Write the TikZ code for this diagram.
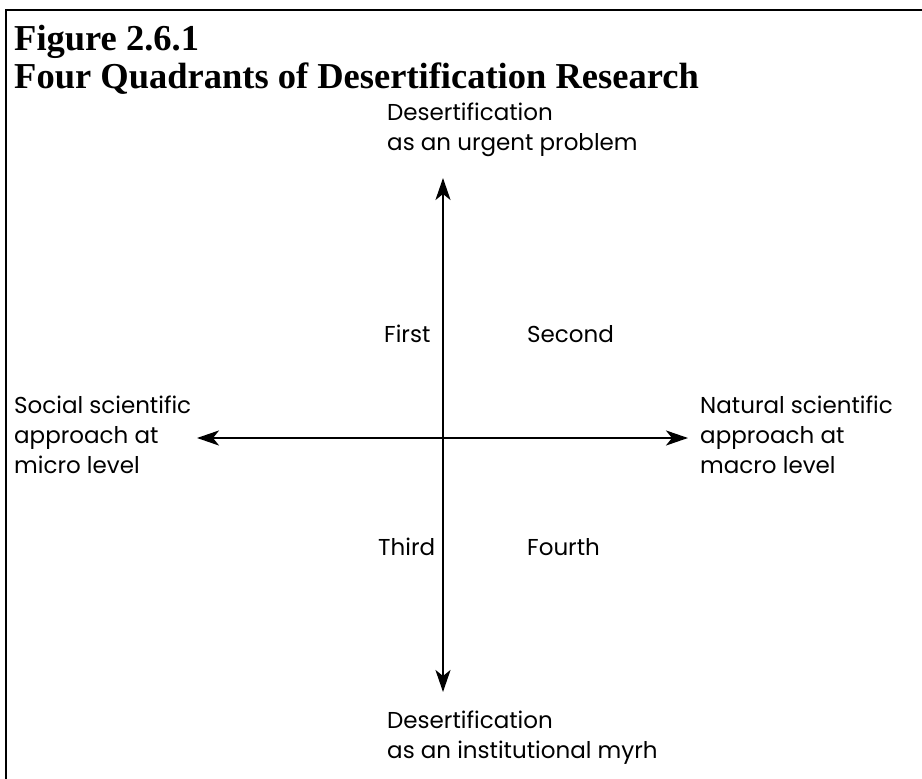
\documentclass[tikz,border=0pt]{standalone}
\usepackage{fontspec}
\setmainfont{Liberation Serif}
\newfontfamily\gothic{Poppins}
\usetikzlibrary{arrows.meta}
\tikzset{
  frameline/.style={line width=2pt, black},
  axis/.style={line width=2.4pt, black, {Stealth[length=22pt,width=15pt,inset=6pt]}-{Stealth[length=22pt,width=15pt,inset=6pt]}},
  titletext/.style={anchor=base west, inner sep=0pt, font=\fontsize{36.5}{44}\selectfont\bfseries},
  lbl/.style={anchor=north west, inner sep=0pt, align=left, font=\gothic\fontsize{23}{30}\selectfont},
}
\begin{document}
\begin{tikzpicture}[x=1pt,y=-1pt]
\useasboundingbox (0,0) rectangle (922,779);
\coordinate (fb) at (6,779);
\coordinate (fc) at (6,10);
\coordinate (fr) at (922,10);
\draw[frameline] (fb) -- (fc) -- (fr);

\node[titletext] (t1) at (14,50) {Figure 2.6.1};
\node[titletext] (t2) at (14,88) {Four Quadrants of Desertification Research};

\coordinate (top) at (443,178);
\coordinate (bot) at (443,692);
\coordinate (lft) at (197,438);
\coordinate (rgt) at (688,438);
\draw[axis] (top) -- (bot);
\draw[axis] (lft) -- (rgt);

\node[lbl] (ltop) at (387,103) {Desertification\\as an urgent problem};
\node[lbl] (lbot) at (387,711) {Desertification\\as an institutional myrh};
\node[lbl] (lleft) at (14,396) {Social scientific\\approach at\\micro level};
\node[lbl] (lright) at (700,396) {Natural scientific\\approach at\\macro level};

\node[lbl] (q1) at (384,325) {First};
\node[lbl] (q2) at (527,325) {Second};
\node[lbl] (q3) at (378,538) {Third};
\node[lbl] (q4) at (527,538) {Fourth};
\end{tikzpicture}
\end{document}
